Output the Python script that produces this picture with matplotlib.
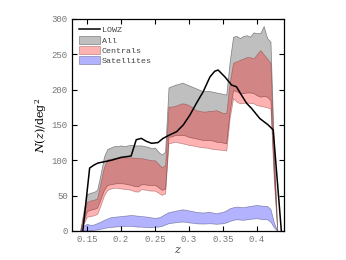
import numpy as np
from matplotlib import pyplot as plt

# redshift grid of the bands
z = [0.140, 0.145, 0.150, 0.155, 0.160, 0.165, 0.170, 0.175, 0.180, 0.185,
     0.190, 0.195, 0.200, 0.205, 0.210, 0.215, 0.220, 0.225, 0.230, 0.235,
     0.240, 0.245, 0.250, 0.255, 0.260, 0.265, 0.270, 0.275, 0.280, 0.285,
     0.290, 0.295, 0.300, 0.305, 0.310, 0.315, 0.320, 0.325, 0.330, 0.335,
     0.340, 0.345, 0.350, 0.355, 0.360, 0.365, 0.370, 0.375, 0.380, 0.385,
     0.390, 0.395, 0.400, 0.405, 0.410, 0.415, 0.420, 0.425, 0.430]

all_hi = [0, 28, 52, 54, 55, 58, 80, 105, 116, 118,
          120, 120, 121, 120, 121, 122, 121, 121, 121, 120,
          119, 117, 118, 112, 108, 112, 203, 205, 207, 208,
          210, 208, 206, 204, 202, 200, 198, 198, 198, 197,
          196, 195, 194, 193, 240, 275, 276, 273, 276, 277,
          275, 281, 280, 280, 290, 273, 268, 115, 0]
all_lo = [0, 14, 28, 30, 31, 33, 45, 58, 65, 66,
          67, 67.5, 67.5, 67, 66, 65, 63.5, 63, 66, 66,
          65, 65, 65, 62, 58, 60, 133, 134, 135.8, 136,
          135.8, 135, 133, 132, 131, 130, 128.7, 128.7, 128.7, 128,
          126.3, 126, 125, 124, 170, 199, 198, 195, 195, 196,
          196, 195, 192, 190, 191, 190, 185, 80, 0]
cen_hi = [0, 22, 41, 43, 44, 46, 68, 90, 101, 102,
          103, 103.5, 104, 104, 104, 104, 103.5, 103, 103, 102,
          101, 100, 100, 95, 90, 93, 176, 176, 177, 179,
          180.6, 180, 178, 175, 171, 170, 169, 169, 170, 170,
          171, 169, 167, 167, 210, 238, 240, 242, 244, 246,
          246, 244, 250, 256, 250, 244, 238, 100, 0]
cen_lo = [0, 10, 20, 21, 22, 24, 36, 50, 58, 60,
          61, 61, 60, 59.5, 59, 58, 56, 55.6, 59, 58.5,
          57.5, 57, 57, 54, 51, 53, 124, 125, 126.3, 125,
          124, 123, 121.6, 121, 120, 119, 118.4, 118, 117, 116,
          115.5, 115, 114.6, 114, 160, 188, 183, 180.6, 181, 182,
          181, 180.6, 178, 177, 176, 175, 173, 70, 0]
sat_hi = [0, 7, 10, 8.5, 9, 11, 13, 15.5, 17.5, 19.5,
          20, 20.5, 21, 21.5, 22, 22.5, 22, 21.5, 21, 20.5,
          20, 19, 18.5, 19, 21, 24, 26.5, 27.5, 28.5, 29.5,
          30.5, 30, 29, 28, 27, 26.5, 26, 26.5, 27, 26,
          25, 26, 27, 29, 32, 33.5, 34.4, 34, 33.5, 34.5,
          35.4, 36, 36.8, 36, 35.4, 35.4, 31, 12, 0]
sat_lo = [0, 0.5, 0.5, 1, 1.5, 2, 3, 4, 5, 5.5,
          6, 6.5, 6.5, 7, 7, 7, 6.5, 6, 6, 5.5,
          5.2, 5.2, 6, 6, 7, 9, 10.8, 11.5, 12.2, 12.8,
          13.2, 12.8, 12, 11.5, 10.8, 10.5, 10.4, 10.5, 10.8, 10.5,
          10, 10.4, 10.8, 12, 14, 15.5, 16.5, 16, 15.7, 16.3,
          17, 17.5, 18, 17, 16.5, 16.5, 13, 5, 0]

# LOWZ measured n(z)
lowz_z = [0.144, 0.154, 0.160, 0.166, 0.176, 0.186, 0.200, 0.215, 0.2225,
          0.230, 0.237, 0.245, 0.2545, 0.262, 0.272, 0.282, 0.2917, 0.3015,
          0.311, 0.321, 0.331, 0.338, 0.343, 0.353, 0.3628, 0.370, 0.3775,
          0.385, 0.392, 0.4044, 0.4167, 0.424, 0.436]
lowz_n = [0, 89, 93, 96, 98, 100, 104, 106, 129,
          131, 127, 124, 125, 131, 136, 140.5, 150, 164,
          180.6, 197, 218, 226, 227.7, 218, 206.5, 204, 192,
          180.6, 173.6, 159, 150, 143, 0]

plt.rcParams['font.family'] = ['Liberation Mono', 'DejaVu Sans']
plt.rcParams['mathtext.fontset'] = 'dejavuserif'

fig = plt.figure(figsize=(3.46, 2.60), dpi=100)
ax = fig.add_axes([0.208, 0.112, 0.613, 0.815])

ax.plot(lowz_z, lowz_n, color='black', lw=1.1, label='LOWZ', zorder=5)
ax.fill_between(z, all_lo, all_hi, facecolor=(0.5, 0.5, 0.5, 0.5),
                edgecolor=(0.25, 0.25, 0.25, 0.6), lw=0.5, label='All')
ax.fill_between(z, cen_lo, cen_hi, facecolor=(1, 0, 0, 0.3),
                edgecolor=(0.5, 0.2, 0.2, 0.5), lw=0.5, label='Centrals')
ax.fill_between(z, sat_lo, sat_hi, facecolor=(0, 0, 1, 0.3),
                edgecolor=(0.2, 0.2, 0.4, 0.5), lw=0.5, label='Satellites')

ax.set_xlim(0.128, 0.44)
ax.set_ylim(0, 300)
ax.set_xticks([0.15, 0.2, 0.25, 0.3, 0.35, 0.4])
ax.set_xticklabels(['0.15', '0.2', '0.25', '0.3', '0.35', '0.4'])
ax.set_yticks([0, 50, 100, 150, 200, 250, 300])
ax.tick_params(direction='in', top=True, right=True, length=3.5, width=0.8,
               labelsize=6.5, labelcolor='#777777', pad=3)
for s in ax.spines.values():
    s.set_linewidth(0.9)

ax.set_xlabel('$z$', fontsize=8, color='#444444', labelpad=1)
ax.set_ylabel('$N(z)/\\mathrm{deg}^2$', fontsize=8, labelpad=2)

leg = ax.legend(loc='upper left', fontsize=6, frameon=False,
                handlelength=2.6, handleheight=1.1, labelspacing=0.15,
                borderaxespad=0.4, handletextpad=0.2)
for t in leg.get_texts():
    t.set_color('#444444')

fig.savefig('out.png', dpi=100)
